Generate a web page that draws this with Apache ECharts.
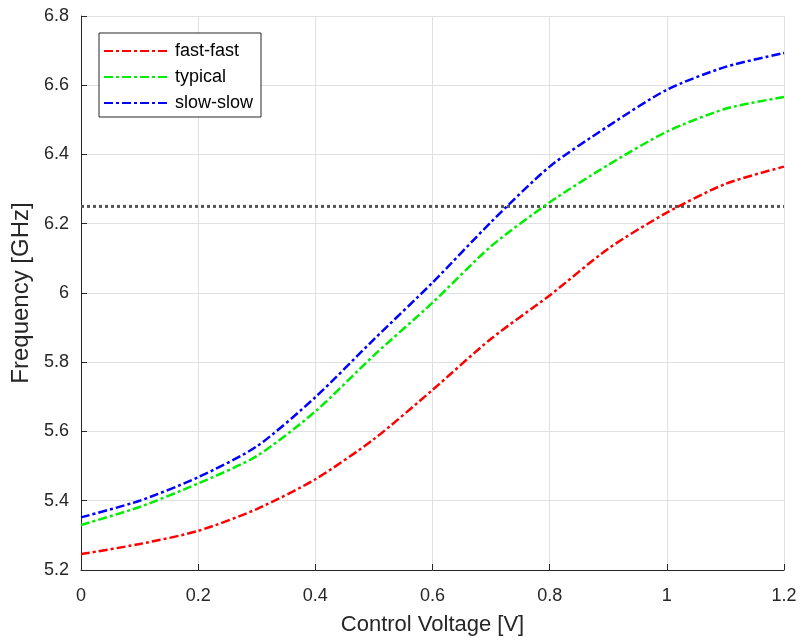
<!DOCTYPE html>
<html>
<head>
<meta charset="utf-8">
<script src="https://cdn.jsdelivr.net/npm/echarts@6/dist/echarts.min.js"></script>
<style>
html,body{margin:0;padding:0;background:#fff;}
#chart{width:801px;height:641px;}
</style>
</head>
<body>
<div id="chart"></div>
<script>
// control voltage [V]
var voltage = [0, 0.1, 0.2, 0.3, 0.4, 0.5, 0.6, 0.7, 0.8, 0.9, 1.0, 1.1, 1.2];
// frequency [GHz] per corner
var fastFast = [5.246, 5.275, 5.313, 5.376, 5.462, 5.578, 5.720, 5.868, 5.993, 6.128, 6.232, 6.315, 6.365];
var typical  = [5.330, 5.382, 5.450, 5.529, 5.658, 5.820, 5.972, 6.135, 6.262, 6.370, 6.466, 6.532, 6.566];
var slowSlow = [5.352, 5.400, 5.468, 5.557, 5.699, 5.866, 6.030, 6.205, 6.365, 6.482, 6.587, 6.653, 6.693];
// target frequency line
var targetX = [0, 1.2];
var targetF = [6.25, 6.25];

function pairs(xs, ys){
	var out = [];
	for(var i=0;i<xs.length;i++){
		out.push([xs[i], ys[i]]);
	}
	return out;
}

var font = 'Liberation Sans, Arial, sans-serif';
var dashDot = [9, 3, 3, 3];

function curve(name, color, values){
	return {
		name: name,
		type: 'line',
		data: pairs(voltage, values),
		symbol: 'none',
		smooth: 0.25,
		lineStyle: {color: color, width: 2.5, type: dashDot},
		itemStyle: {color: color},
		z: 3
	};
}

var chart = echarts.init(document.getElementById('chart'));
var option = {
	backgroundColor: '#fff',
	animation: false,
	grid: {left: 81, right: 17, top: 16, bottom: 70},
	legend: {
		orient: 'vertical',
		left: 99,
		top: 33,
		padding: [9, 8, 5, 4],
		itemGap: 8,
		itemWidth: 64,
		itemHeight: 14,
		itemStyle: {opacity: 0},
		backgroundColor: '#fff',
		borderColor: '#262626',
		borderWidth: 1,
		textStyle: {fontFamily: font, fontSize: 18, lineHeight: 18, color: '#000', padding: [0, 0, 0, 2]},
		data: ['fast-fast', 'typical', 'slow-slow']
	},
	xAxis: {
		type: 'value',
		min: 0, max: 1.2, interval: 0.2,
		name: 'Control Voltage [V]',
		nameLocation: 'middle',
		nameGap: 44,
		nameTextStyle: {fontFamily: font, fontSize: 22, color: '#262626'},
		axisLine: {onZero: false, lineStyle: {color: '#262626', width: 1}},
		axisTick: {inside: true, length: 6, lineStyle: {color: '#262626'}},
		axisLabel: {fontFamily: font, fontSize: 18, color: '#262626', margin: 17},
		splitLine: {show: true, lineStyle: {color: '#e0e0e0', width: 1}}
	},
	yAxis: {
		type: 'value',
		min: 5.2, max: 6.8, interval: 0.2,
		name: 'Frequency [GHz]',
		nameLocation: 'middle',
		nameGap: 47,
		nameTextStyle: {fontFamily: font, fontSize: 24, color: '#262626'},
		axisLine: {show: true, onZero: false, lineStyle: {color: '#262626', width: 1}},
		axisTick: {show: true, inside: true, length: 6, lineStyle: {color: '#262626'}},
		axisLabel: {fontFamily: font, fontSize: 18, color: '#262626', margin: 12,
			formatter: function(v){ return String(Math.round(v*10)/10); }},
		splitLine: {show: true, lineStyle: {color: '#e0e0e0', width: 1}}
	},
	series: [
		{
			name: 'target',
			type: 'line',
			data: pairs(targetX, targetF),
			symbol: 'none',
			lineStyle: {color: '#555', width: 3, type: [3, 3]},
			z: 2
		},
		curve('fast-fast', '#ff0000', fastFast),
		curve('typical', '#00ee00', typical),
		curve('slow-slow', '#0000ff', slowSlow)
	]
};
chart.setOption(option);
</script>
</body>
</html>
